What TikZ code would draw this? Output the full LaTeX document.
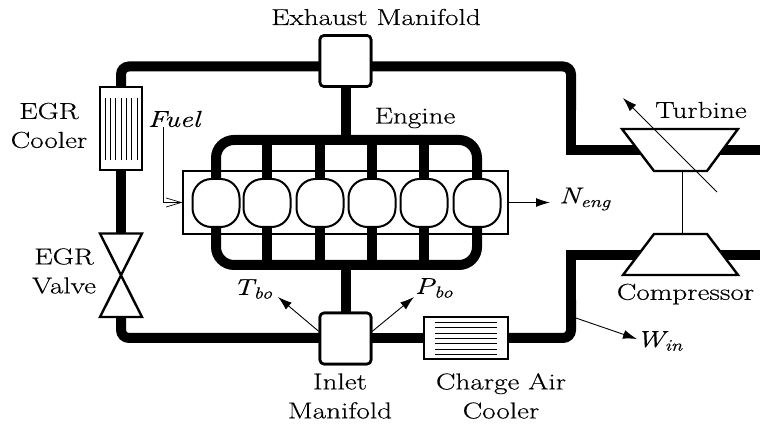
\documentclass[tikz,border=0pt]{standalone}
\usepackage{fontspec}
\setmainfont[FakeStretch=1.27,FakeBold=0.35]{Latin Modern Roman}
\usetikzlibrary{arrows.meta}
\tikzset{
  x=1pt,y=-1pt,
  pipe/.style={line width=10pt,line join=miter},
  mani/.style={draw,fill=white,line width=2.6pt,rounded corners=4pt,minimum width=51pt,minimum height=51pt,inner sep=0},
  cyl/.style={draw,fill=white,line width=2pt,rounded corners=19pt,minimum width=47pt,minimum height=48pt,inner sep=0},
  block/.style={draw,fill=white,line width=1.3pt,inner sep=0},
  signal/.style={line width=.9pt,-{Latex[length=14pt,width=9pt]}},
  fuelarrow/.style={line width=.8pt,-{Straight Barb[length=15pt,width=9pt,line width=.7pt]}},
  lab/.style={font=\fontsize{23}{29}\selectfont,align=center,inner sep=0,text=black},
  sym/.style={font=\fontsize{23}{29}\selectfont\itshape,inner sep=0},
  finv/.style={line width=.9pt},
  mach/.style={draw,fill=white,line width=2.4pt,line join=miter},
}
\begin{document}
\begin{tikzpicture}
\useasboundingbox (0,0) rectangle (760,427);
% named places
\coordinate (cornerTL) at (121,66.5);
\coordinate (cornerBL) at (121,338);
\coordinate (cornerTR) at (571,66.5);
\coordinate (kneeT) at (571,150);
\coordinate (kneeB) at (571,255);
\coordinate (cornerBR) at (571,338);
\coordinate (midR) at (571,110);
\coordinate (midRb) at (571,300);
\coordinate (exitT) at (760,150);
\coordinate (exitB) at (760,255);
\coordinate (shaftT) at (682,171);
\coordinate (shaftB) at (682,234);
\coordinate (vT) at (121,233.5);
\coordinate (vB) at (121,317);
% nodes
\node[block,minimum width=325pt,minimum height=63pt] (engine) at (345.5,202.5) {};
\node[mani] (exh) at (345.5,61) {};
\node[mani] (inl) at (345.5,338.5) {};
\node[block,line width=2pt,minimum width=42pt,minimum height=83pt] (egrc) at (120.5,129) {};
\node[block,minimum width=84pt,minimum height=42pt] (cac) at (466,338) {};
% pipes
\draw[pipe,rounded corners=8pt] (cornerTL -| exh.center) -- (cornerTL) -- (egrc.north -| cornerTL);
\draw[pipe] (egrc.south -| cornerTL) -- (vT);
\draw[pipe,rounded corners=8pt] (vB) -- (cornerBL) -- (cornerBL -| inl.center);
\draw[pipe] (cornerBL -| inl.center) -- (cornerBL -| cac.west);
\draw[pipe,rounded corners=8pt] (cornerBR -| cac.east) -- (cornerBR) -- (midRb);
\draw[pipe] (midRb) -- (kneeB) -- (exitB);
\draw[pipe,rounded corners=8pt] (cornerTR -| exh.center) -- (cornerTR) -- (midR);
\draw[pipe] (midR) -- (kneeT) -- (exitT);
% rail and runners
\coordinate (railTL) at (216,140);
\coordinate (railTR) at (477,140);
\coordinate (railBL) at (216,265);
\coordinate (railBR) at (477,265);
\draw[pipe,rounded corners=18pt] (216,185) -- (railTL) -- (railTR) -- (477,185);
\draw[pipe,rounded corners=18pt] (216,220) -- (railBL) -- (railBR) -- (477,220);
\foreach \x in {267,320,372,424} \draw[pipe] (\x,140) -- (\x,185) (\x,220) -- (\x,265);
\draw[pipe] (exh.south) -- (exh.south |- railTL);
\draw[pipe] (inl.north) -- (inl.north |- railBL);
% cylinders
\foreach \n/\x in {c1/216,c2/267,c3/320,c4/372,c5/424,c6/477}
  \node[cyl] (\n) at (\x,203) {};
% manifolds on top
\node[mani] at (exh) {};
\node[mani] at (inl) {};
% coolers
\node[block,line width=2pt,minimum width=42pt,minimum height=83pt] at (egrc) {};
\node[block,minimum width=84pt,minimum height=42pt] at (cac) {};
\foreach \x in {105,110.3,115.6,121,126.4,131.7,137}
  \draw[line width=.9pt] (\x,98) -- (\x,160);
\foreach \y in {322,327.5,333,338,343.5,349,354}
  \draw[line width=.9pt] (435,\y) -- (497,\y);
% valve
\draw[mach] (100,233.5) -- (142,233.5) -- (100,317) -- (142,317) -- cycle;
% turbo
\draw[mach] (622,129) -- (738,129) -- (707,171) -- (654,171) -- cycle;
\draw[mach] (654,234) -- (707,234) -- (738,275) -- (623,275) -- cycle;
\draw[finv] (shaftT) -- (shaftB);
\coordinate (vgtS) at (717,192);
\coordinate (vgtE) at (623,98);
\draw[signal] (vgtS) -- (vgtE);
% labels
\node[lab] (lExh) at (376,17) {Exhaust Manifold};
\node[lab] (lEgrc) at (49,125.5) {EGR\\Cooler};
\node[sym] (lFuel) at (174,119) {Fuel};
\node[lab] (lEng) at (415,118) {Engine};
\node[lab] (lTurb) at (701,110) {Turbine};
\node[lab] (lEgrv) at (64,271) {EGR\\Valve};
\node[lab] (lComp) at (685.5,294) {Compressor};
\node[lab] (lInl) at (340,396) {Inlet\\Manifold};
\node[lab] (lCac) at (501,396) {Charge Air\\Cooler};
\node[sym,anchor=west] (lN) at (559,199) {N\textsubscript{eng}};
\node[sym] (lT) at (253,289) {T\textsubscript{bo}};
\node[sym] (lP) at (434,288) {P\textsubscript{bo}};
\node[sym,anchor=west] (lW) at (636,341) {W\textsubscript{in}};
% signals
\coordinate (fuelTop) at (163,127);
\draw[fuelarrow] (fuelTop) |- (engine.west);
\coordinate (nEnd) at (550,202.5);
\coordinate (tEnd) at (278,297);
\coordinate (pEnd) at (414,297);
\coordinate (wS) at (570,316);
\coordinate (wEnd) at (637,339);
\draw[signal] (engine.east) -- (nEnd);
\draw[signal] (inl.165) -- (tEnd);
\draw[signal] (inl.15) -- (pEnd);
\draw[signal] (wS) -- (wEnd);
\end{tikzpicture}
\end{document}
